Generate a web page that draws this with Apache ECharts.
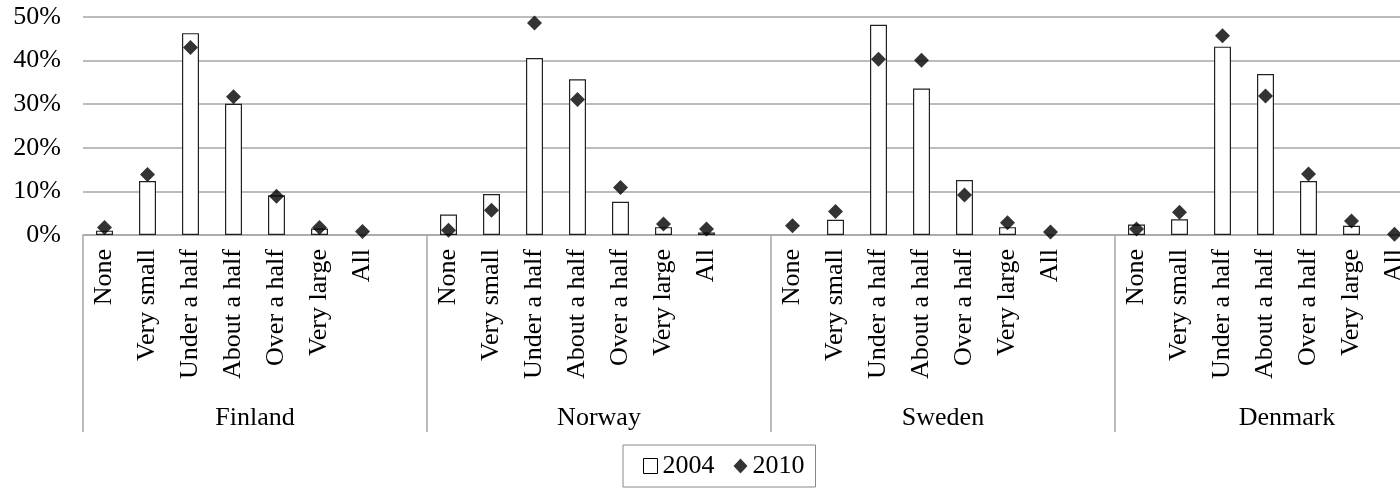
<!DOCTYPE html>
<html>
<head>
<meta charset="utf-8">
<script src="https://cdn.jsdelivr.net/npm/echarts@6/dist/echarts.min.js"></script>
<style>
html,body{margin:0;padding:0;background:#fff;overflow:hidden;width:1400px;height:490px;}
#chart{width:1490px;height:490px;}
</style>
</head>
<body>
<div id="chart"></div>
<script>
var countries = ['Finland', 'Norway', 'Sweden', 'Denmark'];
var levels = ['None', 'Very small', 'Under a half', 'About a half', 'Over a half', 'Very large', 'All', ''];
var yTicks = [0, 10, 20, 30, 40, 50];

// percentages, per country, per level (last slot empty spacer)
var finland2004 = [1.0, 12.4, 46.3, 30.1, 9.1, 1.5, null, null];
var norway2004  = [4.7, 9.4, 40.6, 35.7, 7.6, 1.8, 0.6, null];
var sweden2004  = [null, 3.5, 48.2, 33.6, 12.6, 1.8, null, null];
var denmark2004 = [2.4, 3.6, 43.2, 36.9, 12.4, 2.1, null, null];

var finland2010 = [1.7, 13.9, 43.0, 31.7, 8.9, 1.7, 0.8, null];
var norway2010  = [1.1, 5.7, 48.6, 31.1, 10.9, 2.5, 1.4, null];
var sweden2010  = [2.1, 5.4, 40.3, 40.1, 9.2, 2.8, 0.7, null];
var denmark2010 = [1.4, 5.2, 45.7, 31.9, 14.0, 3.2, 0.2, null];

var cats = [];
countries.forEach(function (c) { levels.forEach(function (l) { cats.push(l); }); });
var s2004 = [].concat(finland2004, norway2004, sweden2004, denmark2004);
var s2010 = [].concat(finland2010, norway2010, sweden2010, denmark2010);

var font = 'Liberation Serif';
var chart = echarts.init(document.getElementById('chart'), null, {renderer: 'canvas', width: 1490, height: 490});
chart.setOption({
  animation: false,
  backgroundColor: '#fff',
  grid: {left: 83, top: 17, right: 31, height: 218, containLabel: false},
  legend: {
    left: 623, top: 445,
    padding: [8, 11, 8, 20],
    borderColor: '#888', borderWidth: 1,
    itemWidth: 14, itemHeight: 15, itemGap: 19,
    textStyle: {fontFamily: font, fontSize: 26, color: '#000'},
    data: [
      {name: '2004', icon: 'rect', itemStyle: {color: '#fff', borderColor: '#000', borderWidth: 1}},
      {name: '2010', icon: 'diamond', itemStyle: {color: '#000'}}
    ]
  },
  xAxis: [
    {
      type: 'category', data: cats, position: 'bottom', boundaryGap: true,
      axisLine: {show: true, lineStyle: {color: '#a6a6a6', width: 1.5}},
      axisTick: {show: false},
      axisLabel: {interval: 0, rotate: 90, margin: 14, fontFamily: font, fontSize: 26, color: '#000'},
      splitLine: {show: false}
    },
    {
      type: 'category', data: countries, position: 'bottom', boundaryGap: true, gridIndex: 0,
      axisLine: {show: false},
      axisTick: {show: true, length: 197, lineStyle: {color: '#a6a6a6', width: 1.5}},
      axisLabel: {interval: 0, margin: 170, fontFamily: font, fontSize: 26, color: '#000'},
      splitLine: {show: false}
    }
  ],
  yAxis: {
    type: 'value', min: 0, max: 50, interval: 10,
    axisLine: {show: false}, axisTick: {show: false},
    axisLabel: {margin: 22, fontFamily: font, fontSize: 26, color: '#000',
      formatter: function (v) { return yTicks.indexOf(v) >= 0 ? v + '%' : ''; }},
    splitLine: {lineStyle: {color: '#a6a6a6', width: 1.5}}
  },
  series: [
    {
      name: '2004', type: 'bar', xAxisIndex: 0, data: s2004, barWidth: 17,
      itemStyle: {color: '#fff', borderColor: '#222', borderWidth: 1.2},
      z: 2
    },
    {
      name: '2010', type: 'scatter', xAxisIndex: 0, data: s2010,
      symbol: 'diamond', symbolSize: 15,
      itemStyle: {color: '#000'},
      z: 3
    }
  ]
});
</script>
</body>
</html>
